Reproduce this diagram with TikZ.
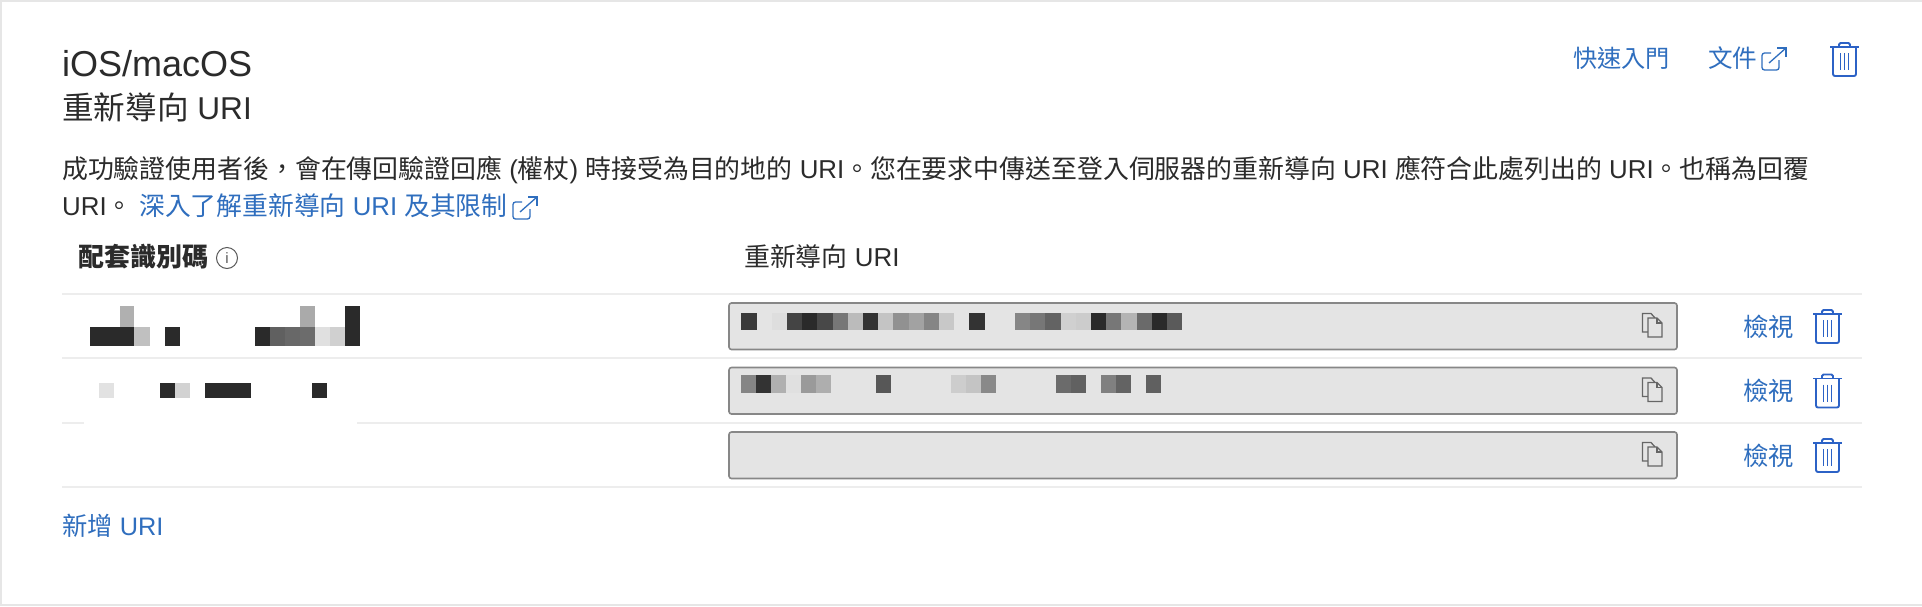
\documentclass[tikz,border=0pt]{standalone}
\usepackage{fontspec}
\setmainfont{Liberation Sans}
\newfontfamily\cjk{Noto Sans CJK TC}
\newcommand{\zh}[1]{{\cjk #1}}
\definecolor{ink}{HTML}{2B2B2B}
\definecolor{linkblue}{HTML}{2F6EBE}
\definecolor{binblue}{HTML}{2C62C6}
\definecolor{frameline}{HTML}{E6E6E6}
\definecolor{ruleline}{HTML}{EDEDED}
\definecolor{boxfill}{HTML}{E4E4E4}
\definecolor{boxline}{HTML}{878787}
\tikzset{
  txt/.style={inner sep=0pt, anchor=base west, text=ink, font=\fontsize{25.88}{26}\selectfont},
  linktxt/.style={txt, text=linkblue, font=\fontsize{25.3}{26}\selectfont},
  rowrule/.style={draw=ruleline, line width=1.6pt},
  uribox/.style={draw=boxline, fill=boxfill, line width=1.6pt, rounded corners=2.5pt},
  cell/.style={fill={rgb,255:red,#1;green,#1;blue,#1}},
  bin/.pic={
    \draw[binblue, line width=1.9pt] (0,5) -- (29,5);
    \draw[binblue, line width=1.9pt, rounded corners=1.5pt] (9,5) -- (9,1) -- (20,1) -- (20,5);
    \draw[binblue, line width=1.9pt, rounded corners=2pt] (3,5) -- (3,34) -- (26,34) -- (26,5);
    \foreach \xb in {10.5,14.5,18.5} \draw[binblue, line width=1.7pt] (\xb,11) -- (\xb,28);
  },
  copyicon/.pic={
    \draw[black!60, line width=1.3pt] (6,19) -- (0.5,19) -- (0.5,0.5) -- (9,0.5) -- (13,5);
    \draw[black!60, line width=1.3pt, fill=boxfill] (6,5) -- (15,5) -- (20,10) -- (20,24) -- (6,24) -- cycle;
    \draw[black!60, line width=1.3pt] (15,5) -- (15,10) -- (20,10);
  },
  extlink/.pic={
    \draw[linkblue, line width=1.3pt, rounded corners=2.5pt] (10,6) -- (1,6) -- (1,23) -- (18,23) -- (18,13);
    \draw[linkblue, line width=1.3pt] (8,16) -- (25,1);
    \draw[linkblue, line width=1.3pt] (16,1) -- (25,1) -- (25,10);
  }
}
\begin{document}
\begin{tikzpicture}[x=1pt, y=-1pt]
\useasboundingbox (0,0) rectangle (1922,606);
\fill[white] (0,0) rectangle (1922,606);
\draw[frameline, line width=2pt] (1922,1) -- (1,1) -- (1,605) -- (1922,605);

% Titolo
\node[txt, font=\fontsize{36}{36}\selectfont] (title) at (62,76) {iOS/macOS};
\node[txt, font=\fontsize{31.6}{32}\selectfont] (subtitle) at (62,119) {\zh{重新導向} URI};
\node[linktxt, font=\fontsize{24.2}{25}\selectfont] (start) at (1573,67) {\zh{快速入門}};
\node[linktxt, font=\fontsize{24.6}{25}\selectfont] (docs) at (1708,67) {\zh{文件}};
\pic at (1761,47) {extlink};
\pic at (1830,42) {bin};

% Testo
\node[txt] (line1) at (62,178) {\zh{成功驗證使用者後，會在傳回驗證回應} (\zh{權杖}) \zh{時接受為目的地的} URI\zh{。您在要求中傳送至登入伺服器的重新導向} URI \zh{應符合此處列出的} URI\zh{。也稱為回覆}};
\node[txt] (line2) at (62,215) {URI\zh{。}};
\node[linktxt, font=\fontsize{25.8}{26}\selectfont] (learn) at (139,215) {\zh{深入了解重新導向} URI \zh{及其限制}};
\pic at (512,196) {extlink};

% Intestazioni
\node[txt, font=\fontsize{26}{26}\cjk\bfseries] (headapp) at (78,266) {配套識別碼};
\node[circle, draw=black!65, line width=1pt, inner sep=0pt, minimum size=21pt, text=black!65, font=\fontsize{15}{15}\selectfont] (info) at (227,258) {i};
\node[txt] (headuri) at (744,266) {\zh{重新導向} URI};

% Righe
\draw[rowrule] (62,294) -- (1862,294);
\draw[rowrule] (62,358) -- (1862,358);
\draw[rowrule] (62,423) -- (84,423);
\draw[rowrule] (357,423) -- (1862,423);
\draw[rowrule] (62,487) -- (1862,487);

\foreach \ytop/\nm in {303/a,367.5/b,432/c} {
  \draw[uribox] (729,\ytop) rectangle (1677,\ytop+46.5);
  \pic at (1642,\ytop+10) {copyicon};
  \node[linktxt] (view\nm) at (1743,\ytop+33) {\zh{檢視}};
  \pic at (1813,\ytop+6) {bin};
}

% Mosaico sinistra
\foreach \xa/\ya/\xb/\yb/\g in {90/327/134/346/42,134/327/150/346/192,165/327/180/346/42,255/327/270/346/42,270/327/285/346/96,285/327/300/346/104,300/327/315/346/108,315/327/330/346/224,330/327/345/346/208,345/306/360/346/42,120/306/134/327/176,300/306/315/327/170,99/383/114/398/226,160/383/175/398/42,175/383/190/398/210,205/383/251/398/42,312/383/327/398/42}
  \fill[cell=\g] (\xa,\ya) rectangle (\xb,\yb);

% Mosaico riquadri
\foreach \i/\g in {0/58,2/222,3/68,4/42,5/72,6/119,7/187,8/51,9/196,10/145,11/162,12/133,13/200,15/51,18/134,19/119,20/99,21/208,22/204,23/42,24/119,25/180,26/106,27/42,28/90}
  \fill[cell=\g] (741.3+15.2*\i,313) rectangle (741.3+15.2*\i+15.2,330);
\foreach \i/\g in {0/133,1/51,2/176,3/224,4/154,5/174,9/87,14/205,15/196,16/137,21/107,22/97,24/128,25/99,27/96}
  \fill[cell=\g] (740.6+15.0*\i,375) rectangle (740.6+15.0*\i+15.0,393);

\node[linktxt] (addnew) at (62,535) {\zh{新增} URI};
\end{tikzpicture}
\end{document}
